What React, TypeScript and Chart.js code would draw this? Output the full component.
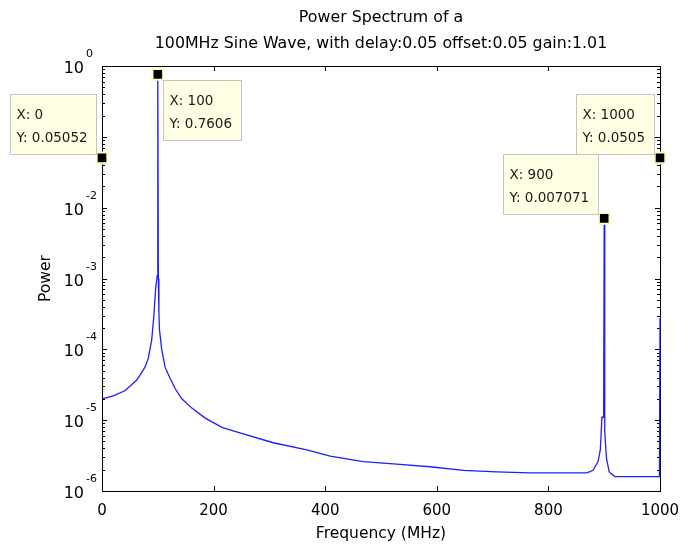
import React, { useEffect, useRef } from "react";
import { Chart, registerables } from "chart.js";

Chart.register(...registerables);

// Spectrum curve (frequency in MHz, power)
const freq = [0, 20, 41, 61, 68, 77, 83, 89, 93, 96, 99, 100, 101, 102, 103, 107, 113, 122, 131, 143, 161, 185, 215, 247, 307, 367, 409, 468, 528, 588, 648, 707, 767, 869, 880, 889, 893, 896, 899, 900, 901, 904, 909, 919, 999, 1000];
const power = [2.0e-5, 2.2e-5, 2.6e-5, 3.6e-5, 4.3e-5, 5.6e-5, 7.5e-5, 1.35e-4, 3.0e-4, 7.0e-4, 1.1e-3, 0.7606, 1.0e-3, 3.2e-4, 1.9e-4, 1.0e-4, 5.6e-5, 3.9e-5, 2.8e-5, 2.0e-5, 1.48e-5, 1.07e-5, 7.9e-6, 6.6e-6, 4.8e-6, 3.8e-6, 3.1e-6, 2.6e-6, 2.4e-6, 2.2e-6, 1.96e-6, 1.86e-6, 1.8e-6, 1.8e-6, 1.96e-6, 2.6e-6, 3.8e-6, 1.1e-5, 1.1e-5, 0.007071, 6.9e-6, 2.9e-6, 1.86e-6, 1.6e-6, 1.6e-6, 2.8e-4];

// Data tips
const tipX = [0, 100, 900, 1000];
const tipY = [0.05052, 0.7606, 0.007071, 0.0505];
const tipLabelY = ["0.05052", "0.7606", "0.007071", "0.0505"];

// Axis ticks
const xTicks = [0, 200, 400, 600, 800, 1000];
const yExponents = [-6, -5, -4, -3, -2, -1, 0];

const titleLines = ["Power Spectrum of a", "100MHz Sine Wave, with delay:0.05 offset:0.05 gain:1.01"];
const xTitle = "Frequency (MHz)";
const yTitle = "Power";

const FONT = "'DejaVu Sans', sans-serif";

export default function App() {
  const ref = useRef<HTMLCanvasElement | null>(null);

  useEffect(() => {
    const canvas = ref.current;
    if (!canvas) return;

    const axesPlugin = {
      id: "matlabAxes",
      beforeDatasetsDraw(chart: any) {
        const ctx = chart.ctx;
        const xs = chart.scales.x;
        const ys = chart.scales.y;
        const a = chart.chartArea;
        ctx.save();
        ctx.strokeStyle = "#000";
        ctx.lineWidth = 1;
        ctx.strokeRect(Math.round(a.left) + 0.5, Math.round(a.top) + 0.5, Math.round(a.right - a.left), Math.round(a.bottom - a.top));
        ctx.beginPath();
        for (const t of xTicks) {
          const px = Math.round(xs.getPixelForValue(t)) + 0.5;
          ctx.moveTo(px, a.bottom);
          ctx.lineTo(px, a.bottom - 5);
          ctx.moveTo(px, a.top);
          ctx.lineTo(px, a.top + 5);
        }
        for (const e of yExponents) {
          const py = Math.round(ys.getPixelForValue(Math.pow(10, e))) + 0.5;
          ctx.moveTo(a.left, py);
          ctx.lineTo(a.left + 5, py);
          ctx.moveTo(a.right, py);
          ctx.lineTo(a.right - 5, py);
          if (e < 0) {
            for (let m = 2; m <= 9; m++) {
              const pm = Math.round(ys.getPixelForValue(m * Math.pow(10, e))) + 0.5;
              ctx.moveTo(a.left, pm);
              ctx.lineTo(a.left + 3, pm);
              ctx.moveTo(a.right, pm);
              ctx.lineTo(a.right - 3, pm);
            }
          }
        }
        ctx.stroke();

        ctx.fillStyle = "#000";
        ctx.font = `15px ${FONT}`;
        ctx.textAlign = "center";
        ctx.textBaseline = "alphabetic";
        for (const t of xTicks) {
          ctx.fillText(String(t), xs.getPixelForValue(t), 515);
        }
        for (const e of yExponents) {
          const py = ys.getPixelForValue(Math.pow(10, e));
          ctx.font = `16px ${FONT}`;
          ctx.textAlign = "right";
          ctx.fillText("10", 84, py + 7);
          ctx.font = `11px ${FONT}`;
          ctx.textAlign = "left";
          ctx.fillText(e === 0 ? "0" : "-" + Math.abs(e), 86, py - 9);
        }
        ctx.font = `15.8px ${FONT}`;
        ctx.textAlign = "center";
        ctx.textBaseline = "middle";
        const cx = (a.left + a.right) / 2;
        ctx.fillText(titleLines[0], cx, 18);
        ctx.fillText(titleLines[1], cx, 44);
        ctx.font = `15.5px ${FONT}`;
        ctx.fillText(xTitle, cx, 534);
        ctx.save();
        ctx.translate(46, (a.top + a.bottom) / 2);
        ctx.rotate(-Math.PI / 2);
        ctx.fillText(yTitle, 0, 0);
        ctx.restore();
        ctx.restore();
      },
      afterDatasetsDraw(chart: any) {
        const ctx = chart.ctx;
        const xs = chart.scales.x;
        const ys = chart.scales.y;
        ctx.save();
        ctx.font = `13.5px ${FONT}`;
        ctx.textAlign = "left";
        ctx.textBaseline = "middle";
        tipX.forEach((tx, i) => {
          const px = xs.getPixelForValue(tx);
          const py = ys.getPixelForValue(tipY[i]);
          const l1 = "X: " + tx;
          const l2 = "Y: " + tipLabelY[i];
          const w = Math.round(Math.max(ctx.measureText(l1).width, ctx.measureText(l2).width) + 15);
          const h = 60;
          let bx: number, by: number;
          if (i === 1) {
            bx = px + 5;
            by = py + 6;
          } else {
            bx = px - 6 - w;
            by = py - 4 - h;
          }
          bx = Math.round(bx) + 0.5;
          by = Math.round(by) + 0.5;
          ctx.fillStyle = "#ffffe3";
          ctx.fillRect(bx, by, w, h);
          ctx.strokeStyle = "#c4c4c4";
          ctx.lineWidth = 1;
          ctx.strokeRect(bx, by, w, h);
          ctx.fillStyle = "#1a1a1a";
          ctx.fillText(l1, bx + 6, by + 21);
          ctx.fillText(l2, bx + 6, by + 44);
        });
        ctx.restore();
      },
    };

    const chart = new Chart(canvas, {
      type: "line",
      data: {
        datasets: [
          {
            label: "tips",
            data: tipX.map((x, i) => ({ x, y: tipY[i] })),
            showLine: false,
            pointStyle: "rect",
            pointRadius: 7.5,
            pointBackgroundColor: "#000",
            pointBorderColor: "#fffbc0",
            pointBorderWidth: 2,
            clip: false,
            order: 0,
          } as any,
          {
            label: "spectrum",
            data: freq.map((f, i) => ({ x: f, y: power[i] })),
            borderColor: "rgb(30,30,255)",
            borderWidth: 1.3,
            pointRadius: 0,
            tension: 0,
            fill: false,
            clip: 1,
            order: 1,
          } as any,
        ],
      },
      options: {
        responsive: false,
        animation: false,
        events: [],
        layout: { padding: { left: 102, top: 66, right: 21, bottom: 56 } },
        plugins: { legend: { display: false }, tooltip: { enabled: false }, title: { display: false } },
        scales: {
          x: { type: "linear", min: 0, max: 1000, display: false },
          y: { type: "logarithmic", min: 1e-6, max: 1, display: false },
        },
      },
      plugins: [axesPlugin],
    });
    return () => chart.destroy();
  }, []);

  return (
    <div style={{ position: "absolute", left: 0, top: 0, width: 681, height: 547, background: "#fff" }}>
      <canvas ref={ref} width={681} height={547} />
    </div>
  );
}
